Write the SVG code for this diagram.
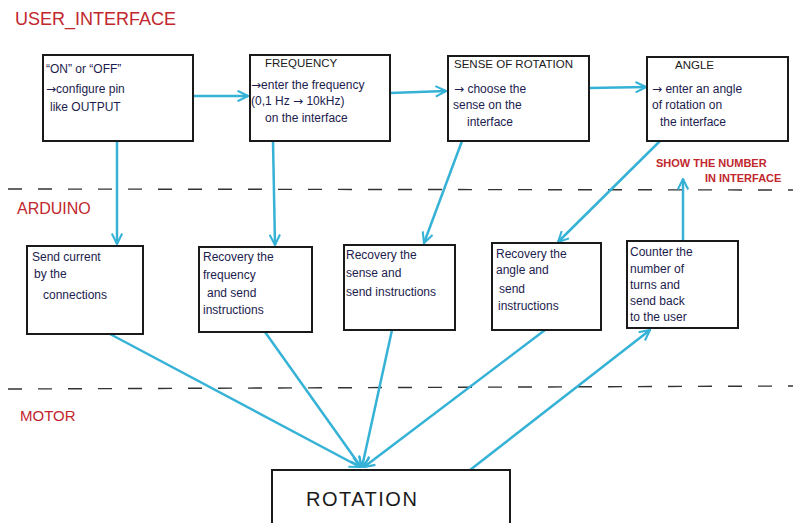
<svg xmlns="http://www.w3.org/2000/svg" width="793" height="523" viewBox="0 0 793 523">
<style>
.box{fill:#fff;stroke:#1a1a1a;stroke-width:2}
.t{font-family:"Liberation Sans",Arial,sans-serif;font-size:12px;fill:#1c1c4e}
.h{font-family:"Liberation Sans",Arial,sans-serif;font-size:11.5px;fill:#1a1a1a}
.ar{font-family:"DejaVu Sans",sans-serif}
.red{font-family:"Liberation Sans",Arial,sans-serif;fill:#c1272d}
.dash{stroke:#333;stroke-width:1.4;stroke-dasharray:14 16;fill:none}
.c{stroke:#35b2d6;stroke-width:2.5;fill:none;marker-end:url(#ah)}
</style>
<defs>
<marker id="ah" viewBox="0 0 12 12" refX="11" refY="6" markerWidth="5" markerHeight="5" orient="auto" markerUnits="strokeWidth">
<path d="M1,1 L11,6 L1,11" fill="none" stroke="#35b2d6" stroke-width="2"/>
</marker>
</defs>
<rect width="793" height="523" fill="#fff"/>

<g id="lanes">
<line class="dash" x1="8" y1="189" x2="793" y2="190"/>
<line class="dash" x1="8" y1="389" x2="793" y2="386"/>
<text class="red" x="15" y="25" font-size="18">USER_INTERFACE</text>
<text class="red" x="17" y="214" font-size="16">ARDUINO</text>
<text class="red" x="20" y="421" font-size="15">MOTOR</text>
<text class="red" x="656" y="167" font-size="11" font-weight="bold">SHOW THE NUMBER</text>
<text class="red" x="705" y="182" font-size="11" font-weight="bold">IN INTERFACE</text>
</g>

<g id="connectors">
<line class="c" x1="193" y1="96" x2="248" y2="96"/>
<line class="c" x1="390" y1="93" x2="446" y2="91"/>
<line class="c" x1="589" y1="88" x2="646" y2="87"/>
<line class="c" x1="117" y1="141" x2="117" y2="244"/>
<line class="c" x1="273" y1="141" x2="275" y2="245"/>
<line class="c" x1="462" y1="141" x2="424" y2="243"/>
<line class="c" x1="660" y1="141" x2="558" y2="242"/>
<line class="c" x1="683" y1="241" x2="683" y2="179"/>
<line class="c" x1="110" y1="334" x2="360" y2="467"/>
<line class="c" x1="265" y1="332" x2="361" y2="467"/>
<line class="c" x1="392" y1="330" x2="362" y2="467"/>
<line class="c" x1="545" y1="330" x2="364" y2="467"/>
<line class="c" x1="470" y1="470" x2="650" y2="330"/>
</g>

<g id="n_onoff">
<rect class="box" x="43" y="55" width="150" height="86"/>
<text class="t" x="46" y="73">“ON” or “OFF”</text>
<text class="t" x="46" y="93"><tspan class="ar">→</tspan>configure pin</text>
<text class="t" x="50" y="111">like OUTPUT</text>
</g>
<g id="n_freq">
<rect class="box" x="250" y="55" width="140" height="86"/>
<text class="h" x="265" y="67">FREQUENCY</text>
<text class="t" x="251" y="89"><tspan class="ar">→</tspan>enter the frequency</text>
<text class="t" x="251" y="105">(0,1 Hz <tspan class="ar">→</tspan> 10kHz)</text>
<text class="t" x="265" y="122">on the interface</text>
</g>
<g id="n_sense">
<rect class="box" x="448" y="56" width="141" height="85"/>
<text class="h" x="454" y="68">SENSE OF ROTATION</text>
<text class="t" x="454" y="93"><tspan class="ar">→</tspan> choose the</text>
<text class="t" x="453" y="109">sense on the</text>
<text class="t" x="467" y="126">interface</text>
</g>
<g id="n_angle">
<rect class="box" x="647" y="57" width="141" height="84"/>
<text class="h" x="675" y="69">ANGLE</text>
<text class="t" x="652" y="93"><tspan class="ar">→</tspan> enter an angle</text>
<text class="t" x="652" y="109">of rotation on</text>
<text class="t" x="660" y="126">the interface</text>
</g>

<g id="n_send">
<rect class="box" x="27" y="246" width="116" height="88"/>
<text class="t" x="32" y="261">Send current</text>
<text class="t" x="34" y="278">by the</text>
<text class="t" x="43" y="299">connections</text>
</g>
<g id="n_recfreq">
<rect class="box" x="199" y="247" width="113" height="85"/>
<text class="t" x="203" y="261">Recovery the</text>
<text class="t" x="203" y="279">frequency</text>
<text class="t" x="207" y="297">and send</text>
<text class="t" x="203" y="314">instructions</text>
</g>
<g id="n_recsense">
<rect class="box" x="344" y="245" width="111" height="85"/>
<text class="t" x="346" y="259">Recovery the</text>
<text class="t" x="346" y="277">sense and</text>
<text class="t" x="346" y="296">send instructions</text>
</g>
<g id="n_recangle">
<rect class="box" x="492" y="243" width="109" height="87"/>
<text class="t" x="496" y="258">Recovery the</text>
<text class="t" x="496" y="274">angle and</text>
<text class="t" x="499" y="293">send</text>
<text class="t" x="498" y="310">instructions</text>
</g>
<g id="n_counter">
<rect class="box" x="627" y="241" width="111" height="87"/>
<text class="t" x="630" y="256">Counter the</text>
<text class="t" x="630" y="273">number of</text>
<text class="t" x="630" y="289">turns and</text>
<text class="t" x="630" y="305">send back</text>
<text class="t" x="630" y="321">to the user</text>
</g>

<g id="n_rotation">
<rect class="box" x="272" y="470" width="238" height="60"/>
<text x="306" y="506" font-family="'Liberation Sans',Arial,sans-serif" font-size="20" letter-spacing="1.5" fill="#1a1a1a">ROTATION</text>
</g>
</svg>
